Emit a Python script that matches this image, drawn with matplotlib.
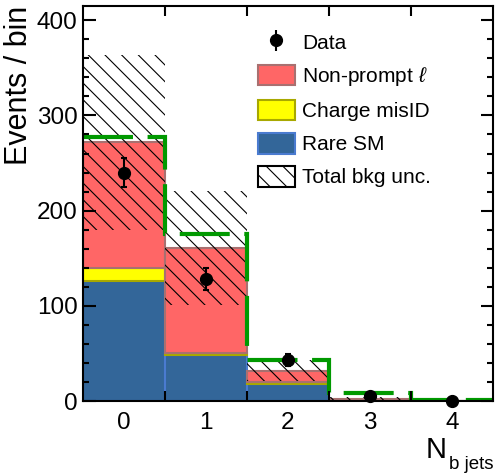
import numpy as np
import matplotlib
matplotlib.use('Agg')
import matplotlib.pyplot as plt
from matplotlib.patches import Patch

plt.rcParams['font.family'] = ['Liberation Sans', 'DejaVu Sans']
plt.rcParams['mathtext.fontset'] = 'custom'
plt.rcParams['mathtext.rm'] = 'Liberation Sans'
plt.rcParams['mathtext.it'] = 'Liberation Sans:italic'
plt.rcParams['hatch.linewidth'] = 0.8

# bins: number of b jets
nbjets = [0, 1, 2, 3, 4]
edges = [-0.5, 0.5, 1.5, 2.5, 3.5, 4.5]

# stacked backgrounds (bottom to top)
rare_sm = [126, 48, 18, 1.0, 0.1]
charge_misid = [14, 2, 2, 0.3, 0.0]
nonprompt = [132, 111, 12, 1.2, 0.2]
bkg_unc = [92, 60, 11, 1.5, 0.2]

# dashed green line (bkg + signal)
sig_total = [277, 175, 43, 8, 1]

data = [240, 128, 43, 5, 0]

fig = plt.figure(figsize=(4.96, 4.74), dpi=100)
ax = fig.add_axes([83 / 496, 73 / 474, 410 / 496, 395 / 474])

x = np.array(nbjets)
rare = np.array(rare_sm)
mis = np.array(charge_misid)
npl = np.array(nonprompt)
total = rare + mis + npl
unc = np.array(bkg_unc)

ax.bar(x, rare, width=1.0, color='#336699', edgecolor='#4a7bd0', linewidth=1.5)
ax.bar(x, mis, width=1.0, bottom=rare, color='#ffff00', edgecolor='#a8a800', linewidth=1.5)
ax.bar(x, npl, width=1.0, bottom=rare + mis, color='#ff6666', edgecolor='#a87070', linewidth=1.5)
ax.bar(x, 2 * unc, width=1.0, bottom=total - unc, fill=False, hatch='\\\\',
       edgecolor='black', linewidth=0)

ax.stairs(sig_total, edges, baseline=None, color='#009900', linewidth=3,
          linestyle=(0, (12, 3.5)))

ax.errorbar(x, data, yerr=np.sqrt(data), fmt='o', color='black', markersize=8.5,
            elinewidth=1.5, capsize=2.5, capthick=1.5, clip_on=False, zorder=5)

ax.set_xlim(-0.5, 4.5)
ax.set_ylim(0, 415)

ax.set_xticks([0.5, 1.5, 2.5, 3.5])
ax.set_xticklabels([])
ax.set_xticks(nbjets, minor=True)
ax.set_xticklabels([str(n) for n in nbjets], minor=True)
ax.tick_params(axis='x', which='major', direction='in', length=7, width=1.5, top=True)
ax.tick_params(axis='x', which='minor', length=0, labelsize=17.5, pad=8)

ax.set_yticks([0, 100, 200, 300, 400])
ax.set_yticks(np.arange(0, 415, 20), minor=True)
ax.tick_params(axis='y', which='major', direction='in', length=9, width=1.5,
               right=True, labelsize=17.5, pad=4)
ax.tick_params(axis='y', which='minor', direction='in', length=4.5, width=1.5, right=True)

for s in ax.spines.values():
    s.set_linewidth(1.5)

ax.set_ylabel('Events / bin', loc='top', fontsize=22, labelpad=2)
# x title: N with subscript, placed like the ROOT original
fig.text(447 / 496, 1 - 458 / 474, 'N', fontsize=21, ha='right', va='baseline')
fig.text(449 / 496, 1 - 469 / 474, 'b jets', fontsize=13.5, ha='left', va='baseline')

handles = [
    ax.errorbar([], [], yerr=[], fmt='o', color='black', markersize=8.5, elinewidth=1.5),
    Patch(facecolor='#ff6666', edgecolor='#a87070', linewidth=1.5),
    Patch(facecolor='#ffff00', edgecolor='#a8a800', linewidth=1.5),
    Patch(facecolor='#336699', edgecolor='#4a7bd0', linewidth=1.5),
    Patch(facecolor='white', edgecolor='black', hatch='\\\\', linewidth=1.5),
]
labels = ['Data', r'Non-prompt $\ell$', 'Charge misID', 'Rare SM', 'Total bkg unc.']
ax.legend(handles, labels, loc='upper left', bbox_to_anchor=(0.427, 0.935),
          frameon=False, fontsize=15, borderpad=0, borderaxespad=0,
          handlelength=1.75, handleheight=1.15, handletextpad=0.38, labelspacing=0.56)

fig.savefig('out.png', dpi=100)
